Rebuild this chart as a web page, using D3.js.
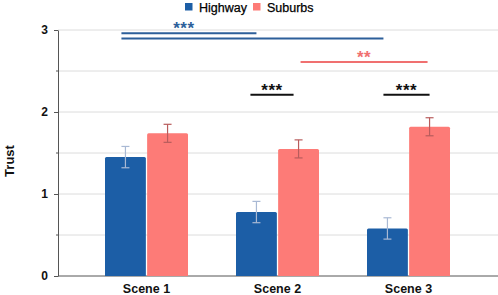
<!DOCTYPE html>
<html>
<head>
<meta charset="utf-8">
<script src="https://cdn.jsdelivr.net/npm/d3@7"></script>
<style>
  body { margin: 0; background: #fff; }
  text { font-family: "Liberation Sans", Arial, sans-serif; }
</style>
</head>
<body>
<div id="main"></div>
<script>
const scenes = ["Scene 1", "Scene 2", "Scene 3"];
const series = ["Highway", "Suburbs"];
const highway = [1.45, 0.78, 0.58];
const suburbs = [1.74, 1.55, 1.82];
const highwayErr = [0.13, 0.13, 0.13];
const suburbsErr = [0.11, 0.11, 0.11];
const yTicks = [0, 1, 2, 3];

// significance brackets between bar centres (group index, series index)
const sigs = [
  {g1: 0, s1: 0, g2: 1, s2: 0, y: 2.96, label: "***", color: "#2d5f9a", d1: -4, d2: 0, lx: -5},
  {g1: 0, s1: 0, g2: 2, s2: 0, y: 2.895, label: null, color: "#2d5f9a", d1: -4, d2: -4, lx: 0},
  {g1: 1, s1: 1, g2: 2, s2: 1, y: 2.61, label: "**", color: "#f07070", d1: 2, d2: -2, lx: 0},
  {g1: 1, s1: 0, g2: 1, s2: 1, y: 2.21, label: "***", color: "#111", d1: -6, d2: -5, lx: 0},
  {g1: 2, s1: 0, g2: 2, s2: 1, y: 2.21, label: "***", color: "#111", d1: -4, d2: 0, lx: 0}
];

const colors = {Highway: "#1c5ea6", Suburbs: "#fd7b77"};
const errColors = {Highway: "#a9b9d4", Suburbs: "#b85c5c"};

const W = 498, H = 295;
const m = {left: 58};
const svg = d3.select("#main").append("svg").attr("width", W).attr("height", H);

const y = d3.scaleLinear().domain([0, 3]).range([276, 30]);
const x0 = d3.scaleBand().domain(scenes).range([81, 474]).padding(0);
const x1 = d3.scaleBand().domain(series).range([0, 83]).paddingInner(0.03);
const off = (x0.bandwidth() - 83) / 2;

// grid
svg.append("g").selectAll("line")
  .data(d3.range(0.5, 3.01, 0.5))
  .join("line")
  .attr("x1", m.left).attr("x2", W)
  .attr("y1", d => y(d)).attr("y2", d => y(d))
  .attr("stroke", "#dcdcdc").attr("stroke-width", 1);

// y axis
const yAxis = svg.append("g").attr("transform", `translate(${m.left},0)`)
  .call(d3.axisLeft(y).tickValues(yTicks).tickFormat(d3.format("d")).tickSize(4).tickSizeOuter(0));
yAxis.select(".domain").attr("stroke", "#555");
yAxis.selectAll(".tick line").attr("stroke", "#555");
yAxis.selectAll("text").attr("font-size", 12).attr("font-weight", "bold")
  .attr("fill", "#111").attr("x", -10);
svg.append("g").selectAll("line")
  .data([0.5, 1.5, 2.5])
  .join("line")
  .attr("x1", m.left - 2).attr("x2", m.left)
  .attr("y1", d => y(d)).attr("y2", d => y(d))
  .attr("stroke", "#555");

// x baseline
svg.append("line").attr("x1", m.left).attr("x2", W)
  .attr("y1", y(0)).attr("y2", y(0)).attr("stroke", "#555");

svg.append("text")
  .attr("transform", `translate(13.5,161) rotate(-90)`)
  .attr("text-anchor", "middle")
  .attr("font-size", 13).attr("font-weight", "bold").attr("fill", "#111")
  .text("Trust");

// bars
const rows = scenes.map((s, i) => ({
  scene: s,
  vals: [
    {k: "Highway", v: highway[i], e: highwayErr[i]},
    {k: "Suburbs", v: suburbs[i], e: suburbsErr[i]}
  ]
}));

const groups = svg.append("g").selectAll("g")
  .data(rows)
  .join("g")
  .attr("transform", d => `translate(${x0(d.scene) + off},0)`);

groups.selectAll("path.bar")
  .data(d => d.vals)
  .join("path")
  .attr("class", "bar")
  .attr("fill", d => colors[d.k])
  .attr("d", d => {
    const bx = x1(d.k), bw = x1.bandwidth(), t = y(d.v), b = y(0), r = 1.5;
    return `M${bx},${b}V${t + r}Q${bx},${t} ${bx + r},${t}H${bx + bw - r}Q${bx + bw},${t} ${bx + bw},${t + r}V${b}Z`;
  });

const eb = groups.selectAll("g.err")
  .data(d => d.vals)
  .join("g")
  .attr("class", "err")
  .attr("stroke", d => errColors[d.k])
  .attr("stroke-width", 1.2);
const ec = d => x1(d.k) + x1.bandwidth() / 2;
eb.append("line")
  .attr("x1", ec).attr("x2", ec)
  .attr("y1", d => y(d.v + d.e)).attr("y2", d => y(d.v - d.e));
eb.append("line")
  .attr("x1", d => ec(d) - 4).attr("x2", d => ec(d) + 4)
  .attr("y1", d => y(d.v + d.e)).attr("y2", d => y(d.v + d.e));
eb.append("line")
  .attr("x1", d => ec(d) - 4).attr("x2", d => ec(d) + 4)
  .attr("y1", d => y(d.v - d.e)).attr("y2", d => y(d.v - d.e));

// x labels
svg.append("g").selectAll("text")
  .data(scenes)
  .join("text")
  .attr("x", d => x0(d) + x0.bandwidth() / 2)
  .attr("y", 293)
  .attr("text-anchor", "middle")
  .attr("font-size", 12.5).attr("font-weight", "bold").attr("fill", "#111")
  .text(d => d);

// significance
const cx = (g, s) => x0(scenes[g]) + off + x1(series[s]) + x1.bandwidth() / 2;
const sx1 = d => cx(d.g1, d.s1) + d.d1;
const sx2 = d => cx(d.g2, d.s2) + d.d2;
const sg = svg.append("g");
sg.selectAll("line")
  .data(sigs)
  .join("line")
  .attr("x1", sx1).attr("x2", sx2)
  .attr("y1", d => y(d.y)).attr("y2", d => y(d.y))
  .attr("stroke", d => d.color).attr("stroke-width", 2);
sg.selectAll("text")
  .data(sigs.filter(d => d.label))
  .join("text")
  .attr("x", d => (sx1(d) + sx2(d)) / 2 + d.lx)
  .attr("y", d => y(d.y) + 1)
  .attr("text-anchor", "middle")
  .attr("font-size", 17).attr("font-weight", "bold")
  .attr("letter-spacing", 0.5)
  .attr("fill", d => d.color)
  .text(d => d.label);

// legend
const lg = svg.append("g").selectAll("g")
  .data(series)
  .join("g")
  .attr("transform", (d, i) => `translate(${i ? 253 : 185},3)`);
lg.append("rect").attr("width", 7.5).attr("height", 7.5).attr("fill", d => colors[d]);
lg.append("text").attr("x", 14).attr("y", 8.5).attr("font-size", 12.5)
  .attr("fill", "#000").attr("stroke", "#000").attr("stroke-width", 0.25)
  .text(d => d);
</script>
</body>
</html>
